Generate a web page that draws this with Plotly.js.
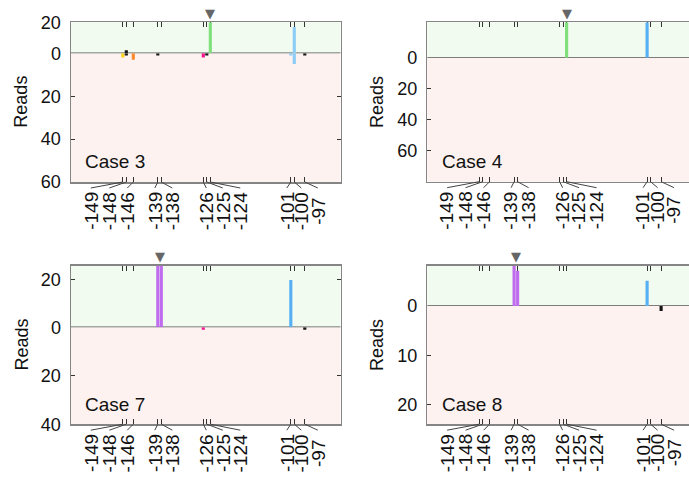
<!DOCTYPE html>
<html>
<head>
<meta charset="utf-8">
<script src="https://cdn.plot.ly/plotly-3.0.1.min.js"></script>
<style>html,body{margin:0;padding:0;background:#fff;}#chart{width:689px;height:479px;}</style>
</head>
<body>
<div id="chart"></div>
<script>
// ---------------- DATA ----------------
const tickPositions = [-149, -148, -146, -139, -138, -126, -125, -124, -101, -100, -97];
const tickLabels = ['-149', '-148', '-146', '-139', '-138', '-126', '-125', '-124', '-101', '-100', '-97'];
const caseNames = ['Case 3', 'Case 4', 'Case 7', 'Case 8'];
const cutSites = [-124, -124, -138.5, -138.5];

// forward-strand reads (drawn upward)
const case3FwdPos = [-148, -124, -100];
const case3FwdReads = [2, 20, 17];
const case3FwdColor = ['black', 'green', 'lightblue'];
// reverse-strand reads (drawn downward)
const case3RevPos = [-149, -148, -146, -139, -126, -125, -101, -100, -97];
const case3RevReads = [2, 1, 3, 1, 2, 1, 1, 5, 1];
const case3RevColor = ['yellow', 'black', 'orange', 'black', 'magenta', 'black', 'lightblue', 'lightblue', 'black'];

const case4FwdPos = [-124, -101];
const case4FwdReads = [15, 15];
const case4FwdColor = ['green', 'blue'];
const case4RevPos = [];
const case4RevReads = [];
const case4RevColor = [];

const case7FwdPos = [-139, -138, -101];
const case7FwdReads = [26, 26, 20];
const case7FwdColor = ['purple', 'purple', 'blue'];
const case7RevPos = [-126, -97];
const case7RevReads = [1, 1];
const case7RevColor = ['magenta', 'black'];

const case8FwdPos = [-139, -138, -101];
const case8FwdReads = [8, 7, 5];
const case8FwdColor = ['purple', 'purple', 'blue'];
const case8RevPos = [-97];
const case8RevReads = [1];
const case8RevColor = ['black'];

// ---------------- STYLE / LAYOUT ----------------
const palette = {
  black: '#151515', green: '#7fe07c', lightblue: '#8ccdf5', blue: '#58b0f4',
  purple: '#c06cef', magenta: '#f4148c', orange: '#ff8a2e', yellow: '#ffd21c'
};
const W = 689, H = 479;
const fx = px => px / W;
const fy = px => 1 - px / H;
const pxPerUnit = 3.5;
const xMin = -163.8;
const labelOffsetPx = [-32, -17, -6, -3, 11, 3, 16, 30, -4, 7, 13];
const FONT = 'Liberation Sans, Arial, Helvetica, sans-serif';

const panels = [
  {fwd: [case3FwdPos, case3FwdReads, case3FwdColor], rev: [case3RevPos, case3RevReads, case3RevColor],
   xd: [71, 340.5], top: 22.3, zero: 53.3, bottom: 182, upRange: [0, 20], upTicks: [20],
   lowRange: [60, 0], lowTicks: [0, 20, 40, 60], readsX: 21.5, caseX: 83, clipped: false},
  {fwd: [case4FwdPos, case4FwdReads, case4FwdColor], rev: [case4RevPos, case4RevReads, case4RevColor],
   xd: [427.3, 689], top: 22.3, zero: 57.7, bottom: 181.7, upRange: [0, 15], upTicks: [],
   lowRange: [80, 0], lowTicks: [0, 20, 40, 60], readsX: 377, caseX: 440, clipped: true},
  {fwd: [case7FwdPos, case7FwdReads, case7FwdColor], rev: [case7RevPos, case7RevReads, case7RevColor],
   xd: [71, 340.5], top: 265.7, zero: 327.3, bottom: 424.2, upRange: [0, 26], upTicks: [20],
   lowRange: [40, 0], lowTicks: [0, 20, 40], readsX: 21.5, caseX: 83, clipped: false},
  {fwd: [case8FwdPos, case8FwdReads, case8FwdColor], rev: [case8RevPos, case8RevReads, case8RevColor],
   xd: [427.3, 689], top: 265.7, zero: 306, bottom: 424.2, upRange: [0, 8], upTicks: [],
   lowRange: [24, 0], lowTicks: [0, 10, 20], readsX: 377, caseX: 440, clipped: true}
];

const traces = [];
const layout = {
  width: W, height: H,
  margin: {l: 0, r: 0, t: 0, b: 0, pad: 0},
  paper_bgcolor: '#ffffff', plot_bgcolor: 'rgba(0,0,0,0)',
  showlegend: false,
  font: {family: FONT, color: '#111', size: 18},
  shapes: [], annotations: []
};

const axisLine = '#858585';
panels.forEach((p, i) => {
  const xi = i + 1;
  const xName = xi === 1 ? 'x' : 'x' + xi;
  const fIdx = 3 * i + 1, uIdx = 3 * i + 2, lIdx = 3 * i + 3;
  const yF = fIdx === 1 ? 'y' : 'y' + fIdx;
  const yU = 'y' + uIdx, yL = 'y' + lIdx;
  const xMax = xMin + (p.xd[1] - p.xd[0]) / pxPerUnit;

  layout['xaxis' + (xi === 1 ? '' : xi)] = {
    domain: [fx(p.xd[0]), fx(p.xd[1])], range: [xMin, xMax], anchor: yF,
    showline: true, mirror: 'ticks', linecolor: axisLine, linewidth: 1.5,
    ticks: 'inside', ticklen: 5, tickcolor: '#333', tickwidth: 1,
    tickmode: 'array', tickvals: tickPositions, showticklabels: false,
    showgrid: false, zeroline: false, fixedrange: true
  };
  layout['yaxis' + (fIdx === 1 ? '' : fIdx)] = {
    domain: [fy(p.bottom), fy(p.top)], range: [0, 1], anchor: xName,
    showline: true, mirror: p.clipped ? false : true, linecolor: axisLine, linewidth: 1.5,
    ticks: '', showticklabels: false, showgrid: false, zeroline: false, fixedrange: true
  };
  const yStyle = {
    anchor: xName, showline: true, mirror: p.clipped ? false : 'ticks', linecolor: axisLine, linewidth: 1.5,
    ticks: 'inside', ticklen: 4, tickcolor: '#333', tickwidth: 1, tickmode: 'array',
    tickfont: {size: 18, color: '#111', family: FONT}, ticklabelstandoff: 5,
    showgrid: false, zeroline: false, fixedrange: true
  };
  layout['yaxis' + uIdx] = Object.assign({}, yStyle, {
    domain: [fy(p.zero), fy(p.top)], range: p.upRange, tickvals: p.upTicks, ticktext: p.upTicks.map(String)
  });
  layout['yaxis' + lIdx] = Object.assign({}, yStyle, {
    domain: [fy(p.bottom), fy(p.zero)], range: p.lowRange, tickvals: p.lowTicks, ticktext: p.lowTicks.map(String)
  });

  // backgrounds
  layout.shapes.push({type: 'rect', xref: xName + ' domain', yref: yU + ' domain', x0: 0, x1: 1, y0: 0, y1: 1,
    fillcolor: '#f2fbf0', line: {width: 0}, layer: 'below'});
  layout.shapes.push({type: 'rect', xref: xName + ' domain', yref: yL + ' domain', x0: 0, x1: 1, y0: 0, y1: 1,
    fillcolor: '#fdf2f0', line: {width: 0}, layer: 'below'});
  // zero line
  layout.shapes.push({type: 'line', xref: xName + ' domain', yref: yU, x0: 0, x1: 1, y0: 0, y1: 0,
    line: {color: '#555', width: 1.5}, layer: 'below'});

  // dummy trace for frame subplot
  traces.push({type: 'scatter', mode: 'markers', x: [], y: [], xaxis: xName, yaxis: yF, hoverinfo: 'skip'});
  // bars
  traces.push({type: 'bar', x: p.fwd[0], y: p.fwd[1], xaxis: xName, yaxis: yU, width: 0.9,
    marker: {color: p.fwd[2].map(c => palette[c]), line: {width: 0}}});
  traces.push({type: 'bar', x: p.rev[0], y: p.rev[1], xaxis: xName, yaxis: yL, width: 0.9,
    marker: {color: p.rev[2].map(c => palette[c]), line: {width: 0}}});

  // tick labels with leader lines
  tickPositions.forEach((t, k) => {
    const lx = t + labelOffsetPx[k] / pxPerUnit;
    layout.shapes.push({type: 'line', xref: xName, yref: 'paper', x0: t, x1: lx,
      y0: fy(p.bottom), y1: fy(p.bottom + 6), line: {color: '#444', width: 1}});
    layout.annotations.push({xref: xName, yref: 'paper', x: lx, y: fy(p.bottom + 29),
      text: tickLabels[k], textangle: -90, xanchor: 'center', yanchor: 'middle', showarrow: false,
      font: {size: 19, color: '#111', family: FONT}});
  });

  // cut site marker
  layout.annotations.push({xref: xName, yref: 'paper', x: cutSites[i], y: fy(p.top - 9),
    text: '▼', xanchor: 'center', yanchor: 'middle', showarrow: false,
    font: {size: 13, color: '#666', family: 'DejaVu Sans'}});

  // Reads title
  layout.annotations.push({xref: 'paper', yref: 'paper', x: fx(p.readsX), y: fy((p.top + p.bottom) / 2),
    text: 'Reads', textangle: -90, xanchor: 'center', yanchor: 'middle', showarrow: false,
    font: {size: 18, color: '#111', family: FONT}});
  // Case label
  layout.annotations.push({xref: 'paper', yref: 'paper', x: fx(p.caseX), y: fy(p.bottom - 20),
    text: caseNames[i], xanchor: 'left', yanchor: 'middle', showarrow: false,
    font: {size: 19, color: '#111', family: FONT}});
});

Plotly.newPlot('chart', traces, layout, {staticPlot: true, displayModeBar: false});
</script>
</body>
</html>
